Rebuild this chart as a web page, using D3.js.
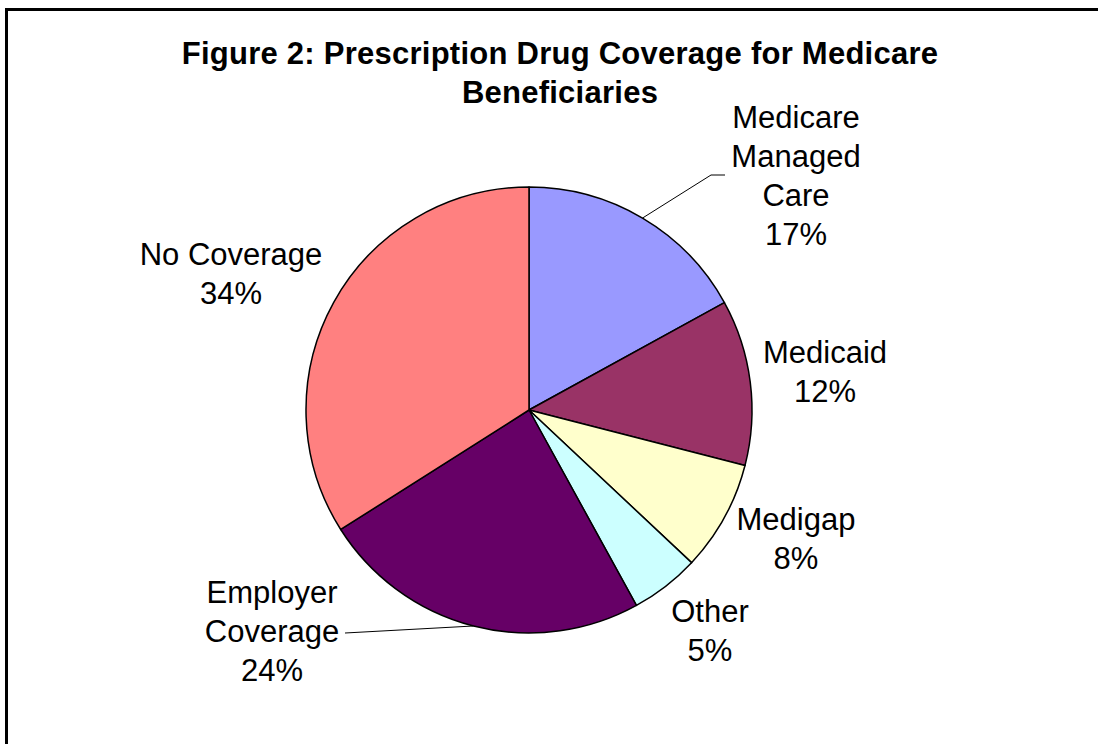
<!doctype html>
<html>
<head>
<meta charset="utf-8">
<script src="https://cdn.jsdelivr.net/npm/d3@7"></script>
<style>
  body { margin: 0; background: #fff; }
  text { font-family: Arial, "Liberation Sans", sans-serif; fill: #000; }
</style>
</head>
<body>
<div id="chart"></div>
<script>

// data
var categories = ["Medicare Managed Care", "Medicaid", "Medigap", "Other", "Employer Coverage", "No Coverage"];
var shares = [17, 12, 8, 5, 24, 34];
var labelLines = [
  ["Medicare", "Managed", "Care", "17%"],
  ["Medicaid", "12%"],
  ["Medigap", "8%"],
  ["Other", "5%"],
  ["Employer", "Coverage", "24%"],
  ["No Coverage", "34%"]
];
var colors = ["#9999ff", "#993366", "#ffffcc", "#ccffff", "#660066", "#ff8080"];

// layout: where each label's first baseline sits, relative to pie center
var labelAt = [[267, -282], [296, -47], [267, 120], [181, 212], [-257, 193], [-298, -145]];
var leaders = { 0: [182, -235], 4: [-184, 223] };   // end of leader line at label

var width = 1098, height = 744;
var cx = 529, cy = 410, radius = 223;

var svg = d3.select("#chart").append("svg")
  .attr("width", width).attr("height", height);

// frame
svg.append("rect")
  .attr("x", 6.5).attr("y", 9.5)
  .attr("width", width + 20).attr("height", height + 20)
  .attr("fill", "none").attr("stroke", "#000").attr("stroke-width", 3);

// title
var title = ["Figure 2: Prescription Drug Coverage for Medicare", "Beneficiaries"];
svg.selectAll("text.title").data(title).enter().append("text")
  .attr("class", "title")
  .attr("x", 560)
  .attr("y", function(d, i) { return 64 + i * 39; })
  .attr("text-anchor", "middle")
  .attr("font-size", 31).attr("font-weight", "bold")
  .attr("letter-spacing", 0.25)
  .text(function(d) { return d; });

var pie = d3.pie().sort(null).value(function(d) { return d; });
var arc = d3.arc().innerRadius(0).outerRadius(radius);
var arcs = pie(shares);

var g = svg.append("g").attr("transform", "translate(" + cx + "," + cy + ")");

g.selectAll("path").data(arcs).enter().append("path")
  .attr("d", arc)
  .attr("fill", function(d, i) { return colors[i]; })
  .attr("stroke", "#000").attr("stroke-width", 1.5)
  .attr("stroke-linejoin", "round");

// leader lines
var edge = d3.arc().innerRadius(radius).outerRadius(radius);
Object.keys(leaders).forEach(function(k) {
  var i = +k;
  var p = edge.centroid(arcs[i]);
  var e = leaders[k];
  var pts = i === 0 ? [p, [e[0], e[1]], [e[0] + 14, e[1]]] : [p, [e[0], e[1]]];
  g.append("path")
    .attr("d", d3.line()(pts))
    .attr("fill", "none").attr("stroke", "#000").attr("stroke-width", 1);
});

// labels
arcs.forEach(function(a, i) {
  var t = g.append("text")
    .attr("text-anchor", "middle")
    .attr("font-size", 31);
  labelLines[i].forEach(function(line, j) {
    t.append("tspan")
      .attr("x", labelAt[i][0])
      .attr("y", labelAt[i][1] + j * 39)
      .text(line);
  });
});

</script>
</body>
</html>
